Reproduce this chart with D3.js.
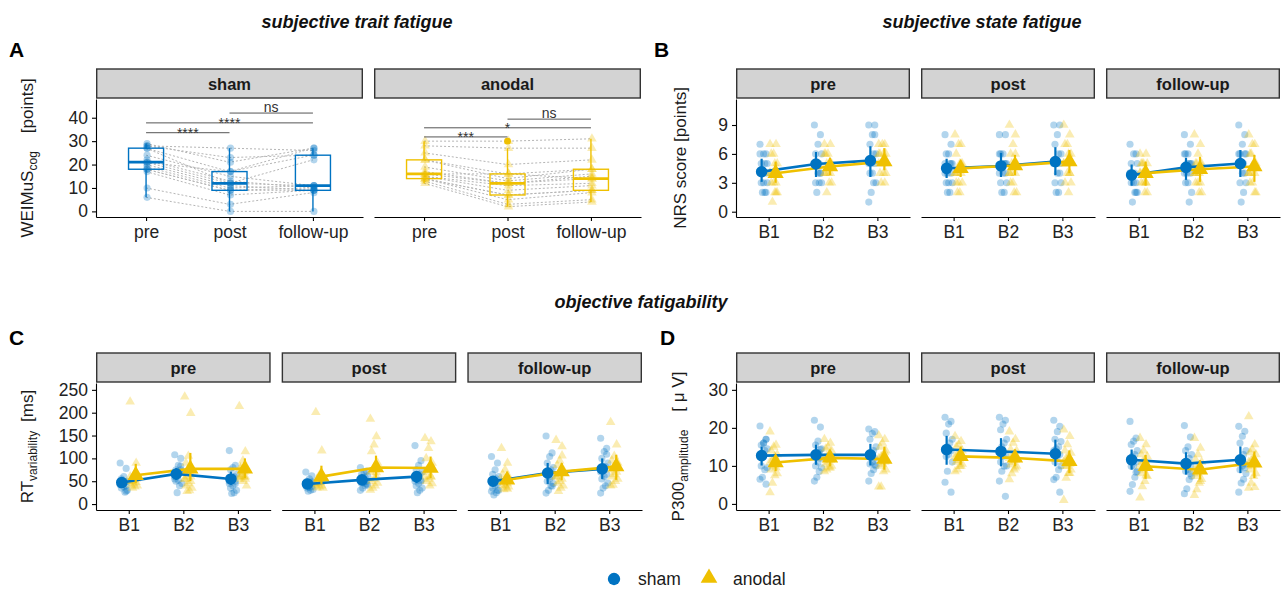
<!DOCTYPE html>
<html>
<head>
<meta charset="utf-8">
<script src="https://cdn.jsdelivr.net/npm/d3@7"></script>
<style>
  body { margin: 0; background: #fff; }
</style>
</head>
<body>
<script>
// ---- categories ----
var timepoints = ["pre", "post", "follow-up"];
var blocks = ["B1", "B2", "B3"];
var groups = ["sham", "anodal"];

// ---- panel A: WEIMuS cog per subject [pre, post, follow-up] ----
var weimusSham = [
  [29, 21, 27], [28, 27, 26], [28, 23, 24], [27, 17, 24], [27, 12, 22], [24, 15, 11],
  [22, 13, 10], [21, 12, 11], [21, 17, 27], [20, 11, 9], [19, 10, 11], [18, 9, 9],
  [18, 9, 10], [17, 7, 9], [10, 3, 8], [6, 0, 0]
];
var weimusAnodal = [
  [30, 30, 31], [28, 27, 27], [25, 20, 22], [22, 16, 18], [22, 14, 18], [19, 13, 16],
  [17, 12, 15], [16, 12, 14], [16, 16, 14], [15, 11, 12], [15, 9, 11], [14, 7, 9],
  [14, 7, 9], [14, 5, 8], [13, 3, 5], [12, 2, 4]
];
var sigSham = [
  { from: "pre", to: "post", y: 33.6, label: "****" },
  { from: "pre", to: "follow-up", y: 37.8, label: "****" },
  { from: "post", to: "follow-up", y: 42, label: "ns" }
];
var sigAnodal = [
  { from: "pre", to: "post", y: 31.8, label: "***" },
  { from: "pre", to: "follow-up", y: 35.7, label: "*" },
  { from: "post", to: "follow-up", y: 39.4, label: "ns" }
];
var weimusTicks = [0, 10, 20, 30, 40];

// ---- panel B: NRS score, [timepoint][block][subject] ----
var nrsShamRaw = [
  [[7,6,6,5,5,5,4,4,4,3,3,3,2,2,6,2], [9,8,7,6,6,5,5,5,4,4,3,3,3,2,5,4], [9,8,8,7,6,6,5,5,5,4,4,3,3,2,1,9]],
  [[8,7,6,6,5,5,4,4,4,3,3,3,2,2,5,5], [8,8,6,6,5,5,5,4,4,4,3,3,2,2,6,5], [9,9,8,7,6,6,5,5,4,4,3,3,2,2,5,5]],
  [[7,6,6,5,5,4,4,4,3,3,3,2,2,1,4,2], [8,7,6,6,5,5,4,4,4,3,3,2,1,5,6,5], [9,8,7,6,6,5,5,5,4,4,3,3,2,1,6,6]]
];
var nrsAnodalRaw = [
  [[7,7,6,6,5,5,4,4,3,3,3,2,2,1,4,2], [7,7,6,6,5,5,5,4,4,4,4,3,3,2,6,5], [7,7,7,6,6,6,5,5,5,5,4,4,4,3,6,3]],
  [[8,7,7,6,5,5,4,4,4,3,3,3,2,2,4,5], [9,8,7,6,5,5,4,4,4,3,3,2,2,5,4,6], [9,8,7,7,6,6,5,5,4,4,3,3,2,5,5,4]],
  [[6,6,5,5,5,4,4,4,3,3,3,2,2,5,4,3], [8,7,6,5,5,4,4,4,3,3,3,2,2,5,4,5], [8,7,7,6,5,5,4,4,4,3,3,2,5,6,4,2]]
];
var nrsShamMean = [[4.15, 4.95, 5.3], [4.5, 4.75, 5.2], [3.8, 4.6, 5.0]];
var nrsShamLo   = [[3.1, 3.6, 3.6], [3.5, 3.6, 3.8], [2.7, 3.3, 3.6]];
var nrsShamHi   = [[5.5, 6.2, 6.8], [5.5, 6.1, 6.7], [4.9, 5.6, 6.4]];
var nrsAnodalMean = [[4.0, 4.7, 5.2], [4.5, 4.8, 5.2], [4.0, 4.4, 4.7]];
var nrsAnodalLo   = [[3.0, 3.8, 4.3], [3.6, 3.8, 4.0], [2.7, 3.1, 3.1]];
var nrsAnodalHi   = [[5.2, 5.6, 6.6], [5.3, 5.9, 6.4], [5.2, 5.7, 5.9]];
var nrsTicks = [0, 3, 6, 9];

// ---- panel C: RT variability [ms] ----
var rtShamRaw = [
  [[90,78,60,55,50,48,45,42,40,38,35,30,26,45,50,28], [108,100,85,75,70,68,65,60,75,52,50,45,40,25,55,83], [117,85,80,75,65,60,55,50,45,40,35,30,25,23,45,50]],
  [[70,62,55,50,48,45,42,40,38,36,35,32,30,28,45,48], [80,72,70,65,62,58,55,52,50,48,45,42,40,35,30,44], [128,95,85,75,70,65,60,55,50,45,40,35,30,25,50,52]],
  [[104,90,75,65,60,55,50,48,45,40,35,30,25,20,28,30], [149,112,104,90,80,75,70,65,60,55,50,45,40,30,24,39], [144,122,115,100,90,82,75,70,65,60,55,46,40,35,24,109]]
];
var rtAnodalRaw = [
  [[224,90,60,50,65,58,52,50,48,45,42,40,38,35,60,55], [235,199,105,90,75,70,60,55,50,45,40,35,30,28,55,60], [214,115,95,80,75,70,65,60,55,50,78,40,60,60,55,60]],
  [[201,117,60,55,50,48,45,42,40,38,36,35,68,50,45,50], [186,148,130,115,90,80,75,70,60,55,50,46,40,35,31,69], [144,137,122,100,90,80,75,70,60,55,50,45,40,76,60,60]],
  [[122,90,75,65,60,55,50,48,45,42,40,38,35,32,50,33], [140,126,95,85,75,70,65,60,55,50,46,40,35,28,60,106], [179,130,105,95,90,85,80,75,70,65,60,55,50,42,40,91]]
];
var rtShamMean = [[47, 66, 55], [44, 53, 60], [50, 68, 77]];
var rtShamLo   = [[40, 53, 42], [35, 44, 46], [39, 44, 55]];
var rtShamHi   = [[55, 79, 71], [53, 60, 71], [60, 90, 100]];
var rtAnodalMean = [[63, 77, 77], [60, 80, 79], [53, 71, 82]];
var rtAnodalLo   = [[46, 50, 57], [44, 57, 57], [41, 52, 53]];
var rtAnodalHi   = [[88, 112, 100], [84, 106, 104], [66, 90, 108]];
var rtTicks = [0, 50, 100, 150, 200, 250];

// ---- panel D: P300 amplitude [µV] ----
var p300ShamRaw = [
  [[20.5,17,16,15.5,14.5,14,13,12.5,17,16,10,9.5,9,7,6.5,5.2], [22,20.2,16.5,15.5,14.5,13.5,13,12.5,12,11,10,9.5,8.5,7,6,14.3], [19.7,19,18.5,17,15,14,13,12.5,12,11,10.5,10,9,8,6,10.3]],
  [[22.8,21.7,21,18.6,17,16,15,14.5,14,13,12.5,11,14.3,8.6,5.7,3.1], [22.8,22,21,19.5,17,16,15,14,13,12.5,11,10,9.9,8.6,6,2], [22,20.4,19,17,16.4,15,14.5,14,13,12.5,11,10,9,7,6.4,3.1]],
  [[21.7,17.3,16.5,15.6,14,13,12.5,12,11,10,9.9,8.5,7,5.1,3.3,8.3], [20.6,17.6,15,14,13,12,11,10.5,10,9,8.6,7.3,6.4,4,2.7,8], [20.4,19.1,17.8,16,14,13,12,11.2,10.5,10,9,8,6.5,5.5,3.1,9.5]]
];
var p300AnodalRaw = [
  [[19,15.5,15,14,13,12.5,11.5,11,10.5,10,9,8,7.5,5.5,3,9.5], [17,16,15,14.5,14,13,12.5,12,11.5,11,10.5,10,9.5,9,8.5,9.5], [18,17,16,15,14,13,12.5,12,11,10.5,10,9,8.5,4.5,4.5,13.5]],
  [[17.8,16.5,15.6,15,14,13.5,13,12.5,12,11.5,11,10.5,9.9,9,8.5,10], [19,17,16,14.3,14,13,12.5,12,11.5,11,10.3,10,9,8,6.4,9.5], [19.5,17.8,15.6,14,13.4,12.5,12,11,10.5,10,9.9,9,8.1,6.8,1,8.1]],
  [[17.3,15.6,14,13,12.5,11.5,11,10,9.5,9,8,7.3,6,4.6,1.6,7.5], [17.3,14.7,13,11.6,11,10,9.5,9,8.5,8,7.3,6.5,5.5,3.8,2.3,6], [23,15.6,14.3,13.5,13,12,11.5,11,10.5,10,9,8,7.3,5.5,4.2,4.4]]
];
var p300ShamMean = [[12.7, 12.9, 12.9], [14.3, 13.8, 13.2], [11.6, 10.6, 11.6]];
var p300ShamLo   = [[10.1, 10.3, 10.1], [10.3, 9.9, 9.9], [9.0, 7.7, 8.1]];
var p300ShamHi   = [[15.1, 15.6, 15.8], [17.9, 17.3, 16.9], [14.3, 13.6, 15.1]];
var p300AnodalMean = [[10.9, 12.1, 11.8], [12.5, 12.1, 11.2], [9.9, 9.0, 10.8]];
var p300AnodalLo   = [[8.6, 9.9, 9.0], [10.3, 9.9, 8.1], [6.6, 6.4, 6.8]];
var p300AnodalHi   = [[12.9, 14.1, 15.1], [15.1, 14.3, 14.1], [12.9, 11.5, 13.8]];
var p300Ticks = [0, 10, 20, 30];

// ---- styling / layout ----
var font = '"Liberation Sans", Arial, Helvetica, sans-serif';
var blue = "#0073C2", gold = "#EFC000";
var row1 = { stripTop: 69, top: 99, bottom: 217 };
var row2 = { stripTop: 353, top: 383, bottom: 510 };

var svg = d3.select("body").append("svg")
    .attr("width", 1288).attr("height", 590)
    .style("font-family", font);

function facets(x0, x1, n, gap) {
    var w = (x1 - x0 - gap * (n - 1)) / n;
    return d3.range(n).map(function (i) { return [x0 + i * (w + gap), x0 + i * (w + gap) + w]; });
}

function jitter(i) { return ((i * 5) % 7 - 3) * 1.2; }

function strip(ext, row, label) {
    svg.append("rect")
        .attr("x", ext[0] + 0.7).attr("y", row.stripTop)
        .attr("width", ext[1] - ext[0] - 1.4).attr("height", row.top - row.stripTop - 1)
        .attr("fill", "#d3d3d3").attr("stroke", "#333").attr("stroke-width", 1.4);
    svg.append("text")
        .attr("x", (ext[0] + ext[1]) / 2).attr("y", (row.stripTop + row.top) / 2 + 6)
        .attr("text-anchor", "middle").attr("font-size", 16.5).attr("font-weight", "bold")
        .attr("fill", "#1a1a1a").text(label);
}

function styleAxis(a) {
    a.attr("font-size", 17.5).attr("font-family", font);
    a.selectAll("text").attr("fill", "#222");
    a.selectAll("line, path").attr("stroke", "#000").attr("stroke-width", 1.1);
}

function axes(x, y, ticks, showY, row) {
    var xa = svg.append("g").attr("transform", "translate(0," + row.bottom + ")")
        .call(d3.axisBottom(x).tickSize(4).tickSizeOuter(0).tickPadding(5));
    styleAxis(xa);
    if (showY) {
        var ya = svg.append("g").attr("transform", "translate(" + x.range()[0] + ",0)")
            .call(d3.axisLeft(y).tickValues(ticks).tickSize(4).tickSizeOuter(0).tickPadding(4));
        styleAxis(ya);
    }
}

function yTitle(x, cy, main, sub, gap, rest) {
    var t = svg.append("text")
        .attr("transform", "translate(" + x + "," + cy + ") rotate(-90)")
        .attr("text-anchor", "middle").attr("font-size", 17).attr("fill", "#1a1a1a");
    t.append("tspan").text(main);
    if (sub) t.append("tspan").attr("font-size", 12).attr("dy", 4).text(sub);
    t.append("tspan").attr("dy", sub ? -4 : 0).attr("dx", gap).text(rest);
}

function boxStats(values) {
    var s = values.slice().sort(d3.ascending);
    var q1 = d3.quantile(s, 0.25), med = d3.quantile(s, 0.5), q3 = d3.quantile(s, 0.75);
    var iqr = q3 - q1;
    var inside = s.filter(function (v) { return v >= q1 - 1.5 * iqr && v <= q3 + 1.5 * iqr; });
    var lo = d3.min(inside), hi = d3.max(inside);
    return { q1: q1, med: med, q3: q3, lo: lo, hi: hi,
             out: s.filter(function (v) { return v < lo || v > hi; }) };
}

// ---- panel A ----
function drawTrait(ext, subjects, color, shape, sig, showY) {
    var x = d3.scalePoint().domain(timepoints).range(ext).padding(0.6);
    var y = d3.scaleLinear().domain([-2.4, 48]).range([row1.bottom, row1.top]);
    var g = svg.append("g");

    // paired subject lines
    g.selectAll(".subj").data(subjects).join("path")
        .attr("d", function (d) {
            return d3.line()(d.map(function (v, i) { return [x(timepoints[i]), y(v)]; }));
        })
        .attr("fill", "none").attr("stroke", "#b5b5b5")
        .attr("stroke-width", 1).attr("stroke-dasharray", "2,2");

    // boxplots
    var bw = x.step() * 0.42;
    timepoints.forEach(function (tp, i) {
        var st = boxStats(subjects.map(function (s) { return s[i]; }));
        var cx = x(tp);
        g.append("line").attr("x1", cx).attr("x2", cx).attr("y1", y(st.lo)).attr("y2", y(st.q1))
            .attr("stroke", color).attr("stroke-width", 1.4);
        g.append("line").attr("x1", cx).attr("x2", cx).attr("y1", y(st.q3)).attr("y2", y(st.hi))
            .attr("stroke", color).attr("stroke-width", 1.4);
        g.append("rect").attr("x", cx - bw / 2).attr("y", y(st.q3))
            .attr("width", bw).attr("height", y(st.q1) - y(st.q3))
            .attr("fill", "none").attr("stroke", color).attr("stroke-width", 1.4);
        g.append("line").attr("x1", cx - bw / 2).attr("x2", cx + bw / 2)
            .attr("y1", y(st.med)).attr("y2", y(st.med))
            .attr("stroke", color).attr("stroke-width", 2.8);
        g.selectAll(null).data(st.out).join("circle")
            .attr("cx", cx).attr("cy", function (v) { return y(v); })
            .attr("r", 3.4).attr("fill", color);
    });

    // individual points
    subjects.forEach(function (s) {
        s.forEach(function (v, i) {
            g.append("path")
                .attr("transform", "translate(" + (x(timepoints[i]) + 1) + "," + y(v) + ")")
                .attr("d", d3.symbol(shape, 40)())
                .attr("fill", color).attr("fill-opacity", 0.3);
        });
    });

    // significance brackets
    sig.forEach(function (b) {
        g.append("line").attr("x1", x(b.from)).attr("x2", x(b.to))
            .attr("y1", y(b.y)).attr("y2", y(b.y))
            .attr("stroke", "#555").attr("stroke-width", 1);
        var star = b.label.indexOf("*") >= 0;
        g.append("text").attr("x", (x(b.from) + x(b.to)) / 2)
            .attr("y", y(b.y) + (star ? 5.5 : -1))
            .attr("text-anchor", "middle").attr("font-size", star ? 14 : 14)
            .attr("fill", "#333").text(b.label);
    });

    axes(x, y, weimusTicks, showY, row1);
}

// ---- panels B-D ----
function drawMeans(o) {
    o.exts.forEach(function (ext, t) {
        strip(ext, o.row, timepoints[t]);
        var x = d3.scalePoint().domain(blocks).range(ext).padding(0.6);
        var y = d3.scaleLinear().domain(o.domain).range([o.row.bottom, o.row.top]);
        var g = svg.append("g");
        var series = [
            { raw: o.rawSham[t], mean: o.meanSham[t], lo: o.loSham[t], hi: o.hiSham[t],
              color: blue, shape: d3.symbolCircle, side: -1, big: 105 },
            { raw: o.rawAnodal[t], mean: o.meanAnodal[t], lo: o.loAnodal[t], hi: o.hiAnodal[t],
              color: gold, shape: d3.symbolTriangle, side: 1, big: 115 }
        ];
        series.forEach(function (s) {
            s.raw.forEach(function (vals, b) {
                vals.forEach(function (v, i) {
                    g.append("path")
                        .attr("transform", "translate(" + (x(blocks[b]) + s.side * 5 + jitter(i)) + "," + y(v) + ")")
                        .attr("d", d3.symbol(s.shape, 40)())
                        .attr("fill", s.color).attr("fill-opacity", 0.3);
                });
            });
        });
        series.forEach(function (s) {
            g.append("path")
                .attr("d", d3.line()(s.mean.map(function (m, b) { return [x(blocks[b]) + s.side * 7, y(m)]; })))
                .attr("fill", "none").attr("stroke", s.color).attr("stroke-width", 2.6);
        });
        series.forEach(function (s) {
            s.mean.forEach(function (m, b) {
                var cx = x(blocks[b]) + s.side * 7;
                g.append("line").attr("x1", cx).attr("x2", cx)
                    .attr("y1", y(s.lo[b])).attr("y2", y(s.hi[b]))
                    .attr("stroke", s.color).attr("stroke-width", 2.2);
            });
        });
        series.forEach(function (s) {
            s.mean.forEach(function (m, b) {
                g.append("path")
                    .attr("transform", "translate(" + (x(blocks[b]) + s.side * 7) + "," + y(m) + ")")
                    .attr("d", d3.symbol(s.shape, s.big)())
                    .attr("fill", s.color);
            });
        });
        axes(x, y, o.ticks, t === 0, o.row);
    });
}

// ---- titles and panel letters ----
function heading(x, y, txt) {
    svg.append("text").attr("x", x).attr("y", y).attr("text-anchor", "middle")
        .attr("font-size", 18).attr("font-weight", "bold").attr("font-style", "italic")
        .attr("fill", "#111").text(txt);
}
function letter(x, y, txt) {
    svg.append("text").attr("x", x).attr("y", y).attr("font-size", 21)
        .attr("font-weight", "bold").attr("fill", "#000").text(txt);
}
heading(357, 28, "subjective trait fatigue");
heading(982, 28, "subjective state fatigue");
heading(641, 308, "objective fatigability");
letter(9, 57, "A");
letter(654, 57, "B");
letter(9, 345, "C");
letter(660, 345, "D");

// panel A
var extA = facets(96, 641, 2, 11);
strip(extA[0], row1, groups[0]);
strip(extA[1], row1, groups[1]);
drawTrait(extA[0], weimusSham, blue, d3.symbolCircle, sigSham, true);
drawTrait(extA[1], weimusAnodal, gold, d3.symbolTriangle, sigAnodal, false);
yTitle(33, (row1.top + row1.bottom) / 2, "WEIMuS", "cog", 18, "[points]");

// panel B
drawMeans({ exts: facets(736, 1280, 3, 11), row: row1, domain: [-0.55, 11.7], ticks: nrsTicks,
    rawSham: nrsShamRaw, meanSham: nrsShamMean, loSham: nrsShamLo, hiSham: nrsShamHi,
    rawAnodal: nrsAnodalRaw, meanAnodal: nrsAnodalMean, loAnodal: nrsAnodalLo, hiAnodal: nrsAnodalHi });
yTitle(686, (row1.top + row1.bottom) / 2, "NRS score [points]", null, 0, "");

// panel C
drawMeans({ exts: facets(96, 642, 3, 11), row: row2, domain: [-13, 265], ticks: rtTicks,
    rawSham: rtShamRaw, meanSham: rtShamMean, loSham: rtShamLo, hiSham: rtShamHi,
    rawAnodal: rtAnodalRaw, meanAnodal: rtAnodalMean, loAnodal: rtAnodalLo, hiAnodal: rtAnodalHi });
yTitle(33, (row2.top + row2.bottom) / 2, "RT", "variability", 9, "[ms]");

// panel D
drawMeans({ exts: facets(736, 1280, 3, 11), row: row2, domain: [-1.6, 31.8], ticks: p300Ticks,
    rawSham: p300ShamRaw, meanSham: p300ShamMean, loSham: p300ShamLo, hiSham: p300ShamHi,
    rawAnodal: p300AnodalRaw, meanAnodal: p300AnodalMean, loAnodal: p300AnodalLo, hiAnodal: p300AnodalHi });
yTitle(684, (row2.top + row2.bottom) / 2, "P300", "amplitude", 18, "[ \u03bc V]");

// ---- legend ----
var legend = svg.append("g");
legend.append("path").attr("transform", "translate(614,579)")
    .attr("d", d3.symbol(d3.symbolCircle, 120)()).attr("fill", blue);
legend.append("text").attr("x", 638).attr("y", 585).attr("font-size", 17.5)
    .attr("fill", "#1a1a1a").text(groups[0]);
legend.append("path").attr("transform", "translate(709,578)")
    .attr("d", d3.symbol(d3.symbolTriangle, 120)()).attr("fill", gold);
legend.append("text").attr("x", 733).attr("y", 585).attr("font-size", 17.5)
    .attr("fill", "#1a1a1a").text(groups[1]);
</script>
</body>
</html>
